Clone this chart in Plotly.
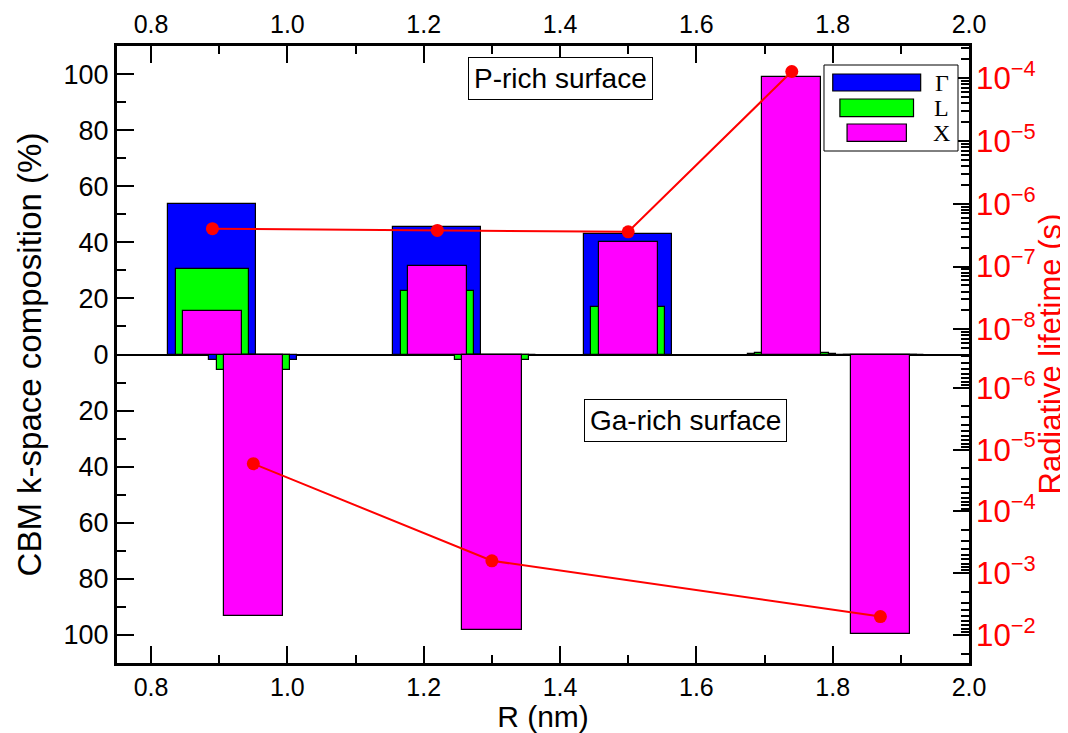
import plotly.graph_objects as go

# ---------------- data ----------------
components = ["Γ", "L", "X"]
colors = ["#0000ff", "#00ff00", "#ff00ff"]
bar_widths = [0.129, 0.108, 0.087]          # nm, Γ widest, X narrowest

# P-rich surface (upper half)
R_P = [0.89, 1.22, 1.50, 1.74]
gamma_P = [53.7, 45.5, 42.8, 0.3]
L_P = [30.5, 22.6, 17.0, 0.6]
X_P = [15.4, 31.7, 40.2, 98.9]
tau_P = [4.0e-7, 3.75e-7, 3.57e-7, 1.27e-4]

# Ga-rich surface (lower half, plotted downward)
R_Ga = [0.95, 1.30, 1.87]
gamma_Ga = [1.8, 0.3, 0.3]
L_Ga = [5.6, 2.0, 0.4]
X_Ga = [93.4, 98.4, 99.6]
tau_Ga = [1.69e-5, 6.3e-4, 5.04e-3]

left_tickvals = [-100, -80, -60, -40, -20, 0, 20, 40, 60, 80, 100]
left_ticktext = [str(abs(v)) for v in left_tickvals]
x_tickvals = [0.8, 1.0, 1.2, 1.4, 1.6, 1.8, 2.0]
x_ticktext = ["0.8", "1.0", "1.2", "1.4", "1.6", "1.8", "2.0"]

FONT = "Liberation Sans, Arial, Helvetica, sans-serif"
SERIF = "Liberation Serif, Times New Roman, serif"

fig = go.Figure()

P_sets = [gamma_P, L_P, X_P]
Ga_sets = [gamma_Ga, L_Ga, X_Ga]
for i in range(3):
    fig.add_trace(go.Bar(
        x=R_P, y=P_sets[i], width=[bar_widths[i]] * len(R_P), base=0,
        marker=dict(color=colors[i], line=dict(color="black", width=1.2)),
        name=components[i], showlegend=False, xaxis="x", yaxis="y"))
    fig.add_trace(go.Bar(
        x=R_Ga, y=[-v for v in Ga_sets[i]], width=[bar_widths[i]] * len(R_Ga), base=0,
        marker=dict(color=colors[i], line=dict(color="black", width=1.2)),
        name=components[i], showlegend=False, xaxis="x", yaxis="y"))

fig.add_trace(go.Scatter(
    x=R_P, y=tau_P, mode="lines+markers", xaxis="x", yaxis="y2",
    line=dict(color="red", width=2), marker=dict(color="red", size=13),
    showlegend=False))
fig.add_trace(go.Scatter(
    x=R_Ga, y=tau_Ga, mode="lines+markers", xaxis="x", yaxis="y3",
    line=dict(color="red", width=2), marker=dict(color="red", size=13),
    showlegend=False))
# invisible helper so the mirrored top axis is drawn
fig.add_trace(go.Scatter(x=[x_tickvals[0]], y=[0], xaxis="x2", yaxis="y",
                         mode="markers", marker=dict(opacity=0),
                         hoverinfo="skip", showlegend=False))

xr = [0.75, 2.0]
common_x = dict(range=xr, tickvals=x_tickvals, ticktext=x_ticktext,
                ticks="inside", ticklen=17, tickwidth=1.5, tickcolor="black",
                minor=dict(ticks="inside", ticklen=8, dtick=0.1, tick0=0.8,
                           tickcolor="black", tickwidth=1.5),
                showgrid=False, zeroline=False, automargin=False,
                showline=True, linecolor="black", linewidth=3,
                tickfont=dict(family=FONT, size=25, color="black"))

log_common = dict(type="log", anchor="x", side="right", dtick=1,
                  exponentformat="power", automargin=False,
                  ticks="inside", ticklen=16, tickwidth=1.5, tickcolor="black",
                  ticklabelstandoff=6,
                  minor=dict(ticks="inside", ticklen=8, dtick="D1",
                             tickcolor="black", tickwidth=1.5),
                  showgrid=False, zeroline=False, showline=False,
                  tickfont=dict(family=FONT, size=25, color="red"))

# the page places the figure 8px from the top-left corner
fig.update_layout(
    width=1060, height=725,
    margin=dict(l=109, r=99, t=38, b=70),
    paper_bgcolor="white", plot_bgcolor="rgba(0,0,0,0)",
    barmode="overlay", bargap=0,
    font=dict(family=FONT, color="black"),
    xaxis=dict(**common_x, domain=[0, 1], anchor="y",
               title=dict(text="R (nm)", font=dict(family=FONT, size=30), standoff=0)),
    xaxis2=dict(**common_x, overlaying="x", side="top", anchor="y"),
    yaxis=dict(range=[-110, 110], tickvals=left_tickvals, ticktext=left_ticktext,
               ticks="inside", ticklen=17, tickwidth=1.5, tickcolor="black",
               minor=dict(ticks="inside", ticklen=9, dtick=10, tick0=0,
                          tickcolor="black", tickwidth=1.5),
               showgrid=False, zeroline=True, zerolinecolor="black", zerolinewidth=2,
               showline=True, linecolor="black", linewidth=3, mirror=True,
               domain=[0, 1], anchor="x", automargin=False,
               tickfont=dict(family=FONT, size=27, color="black"),
               title=dict(text="CBM k-space composition (%)",
                          font=dict(family=FONT, size=33), standoff=12)),
    yaxis2=dict(**log_common, range=[-8.40, -3.49], domain=[0.5, 1]),
    yaxis3=dict(**log_common, range=[-1.546, -6.54], domain=[0, 0.5]),
)

# right-hand axis title
fig.add_annotation(text="Radiative lifetime (s)", xref="paper", yref="paper",
                   x=1.0 + (1050 - 969) / 852, y=0.5, textangle=-90,
                   showarrow=False, xanchor="center", yanchor="middle",
                   font=dict(family=FONT, size=31, color="red"))

# surface labels
fig.add_annotation(text="P-rich surface", xref="paper", yref="paper",
                   x=0.5203, y=0.948, showarrow=False,
                   xanchor="center", yanchor="middle",
                   font=dict(family=FONT, size=28, color="black"),
                   bordercolor="black", borderwidth=1, borderpad=5, bgcolor="white")
fig.add_annotation(text="Ga-rich surface", xref="paper", yref="paper",
                   x=0.6678, y=0.3925, showarrow=False,
                   xanchor="center", yanchor="middle",
                   font=dict(family=FONT, size=28, color="black"),
                   bordercolor="black", borderwidth=1, borderpad=5, bgcolor="white")

# legend (drawn manually to mimic swatch widths)
fig.add_shape(type="rect", xref="paper", yref="paper",
              x0=0.8298, x1=0.9871, y0=0.8298, y1=0.9692,
              line=dict(color="black", width=1), fillcolor="white", layer="above")
legend_center = 1.8646
sw_y = [(0.9271, 0.9546), (0.8854, 0.9141), (0.8455, 0.8736)]
lab_y = [0.9408, 0.8995, 0.8598]
for i in range(3):
    fig.add_shape(type="rect", xref="x", yref="paper",
                  x0=legend_center - bar_widths[i] / 2, x1=legend_center + bar_widths[i] / 2,
                  y0=sw_y[i][0], y1=sw_y[i][1],
                  line=dict(color="black", width=1.2), fillcolor=colors[i], layer="above")
    fig.add_annotation(text=components[i], xref="paper", yref="paper",
                       x=0.968, y=lab_y[i], showarrow=False,
                       xanchor="center", yanchor="middle",
                       font=dict(family=SERIF, size=24, color="black"))

fig.write_html("out.html")
